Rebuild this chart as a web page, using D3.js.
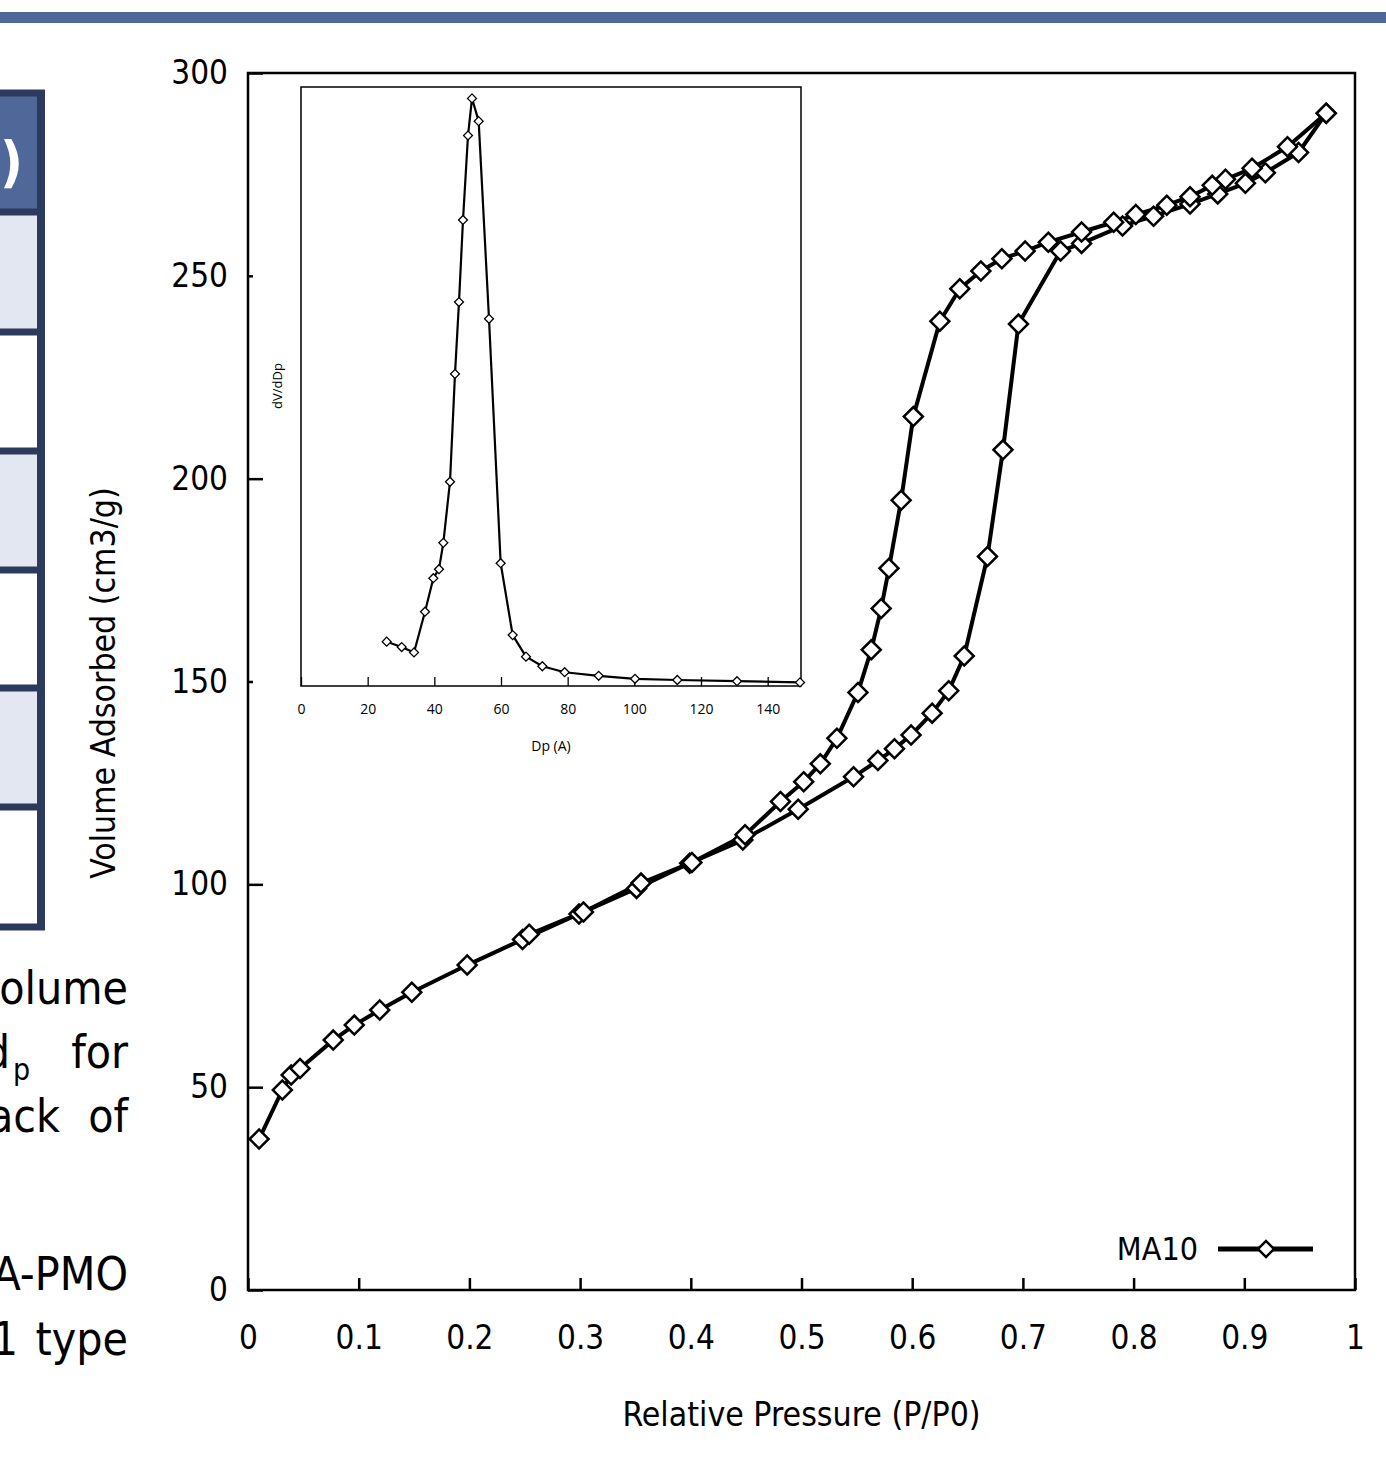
<!DOCTYPE html>
<html>
<head>
<meta charset="utf-8">
<script src="https://cdn.jsdelivr.net/npm/d3@7"></script>
<style>
  body { margin: 0; background: #fff; }
  svg { display: block; }
</style>
</head>
<body>
<script>
// isotherm, adsorption branch (P/P0, cm3/g)
const adsP = [0.010, 0.031, 0.039, 0.047, 0.077, 0.096, 0.119, 0.148, 0.198, 0.248,
  0.299, 0.351, 0.399, 0.447, 0.497, 0.547, 0.569, 0.584, 0.599, 0.618,
  0.633, 0.647, 0.668, 0.682, 0.696, 0.734, 0.753, 0.790, 0.818, 0.851,
  0.876, 0.901, 0.919, 0.949, 0.974];
const adsV = [37.2, 49.3, 53.0, 54.6, 61.6, 65.3, 69.0, 73.4, 80.1, 86.4,
  92.7, 99.0, 105.2, 110.9, 118.5, 126.5, 130.5, 133.4, 136.8, 142.2,
  147.7, 156.3, 180.8, 207.1, 238.1, 256.1, 258.0, 262.3, 264.7, 267.7,
  270.2, 272.8, 275.4, 280.4, 290.1];

// desorption branch
const desP = [0.974, 0.939, 0.907, 0.883, 0.871, 0.851, 0.830, 0.802, 0.782, 0.753,
  0.723, 0.702, 0.681, 0.662, 0.643, 0.625, 0.601, 0.590, 0.579, 0.572,
  0.563, 0.551, 0.532, 0.517, 0.502, 0.481, 0.449, 0.401, 0.355, 0.303,
  0.254];
const desV = [290.1, 281.8, 276.5, 273.8, 272.3, 269.5, 267.4, 265.1, 263.2, 260.8,
  258.3, 256.1, 254.2, 251.2, 246.8, 238.8, 215.3, 194.7, 177.9, 168.0,
  157.8, 147.3, 136.0, 129.7, 125.3, 120.4, 112.2, 105.4, 100.3, 93.2,
  87.7];

// inset: pore size distribution (Dp in A, dV/dDp arbitrary units)
const poreD = [25.7, 30.2, 33.9, 37.2, 39.7, 41.4, 42.7, 44.7, 46.2, 47.4,
  48.6, 50.1, 51.3, 53.3, 56.4, 59.9, 63.5, 67.5, 72.4, 79.1,
  89.3, 100.2, 112.9, 130.8, 149.7];
const poreDV = [0.74, 0.65, 0.56, 1.24, 1.80, 1.95, 2.39, 3.41, 5.21, 6.41,
  7.78, 9.19, 9.81, 9.43, 6.13, 2.05, 0.85, 0.49, 0.33, 0.23,
  0.17, 0.12, 0.10, 0.08, 0.06];

const xTicks = [0, 0.1, 0.2, 0.3, 0.4, 0.5, 0.6, 0.7, 0.8, 0.9, 1];
const yTicks = [0, 50, 100, 150, 200, 250, 300];
const insetTicks = [0, 20, 40, 60, 80, 100, 120, 140];
const seriesName = 'MA10';

const font = "'DejaVu Sans Condensed', 'DejaVu Sans', sans-serif";

const svg = d3.select('body')
  .append('svg')
    .attr('width', 1386)
    .attr('height', 1462);

// slide header bar
svg.append('rect')
    .attr('x', 0)
    .attr('y', 12)
    .attr('width', 1386)
    .attr('height', 11)
    .attr('fill', '#4e6797');

// cropped table on the left side of the slide
const table = svg.append('g').attr('class', 'table');
const rowEdges = [93, 212, 332, 451, 570, 688, 807, 927];
rowEdges.slice(0, -1).forEach((top, i) => {
  table.append('rect')
      .attr('x', -20)
      .attr('y', top)
      .attr('width', 61)
      .attr('height', rowEdges[i + 1] - top)
      .attr('fill', i === 0 ? '#4f6899' : (i % 2 === 1 ? '#e2e7f1' : '#ffffff'));
});
rowEdges.forEach(y => {
  table.append('line')
      .attr('x1', -20)
      .attr('x2', 45)
      .attr('y1', y)
      .attr('y2', y)
      .attr('stroke', '#2c3a5e')
      .attr('stroke-width', 7);
});
table.append('line')
    .attr('x1', 41)
    .attr('x2', 41)
    .attr('y1', 90)
    .attr('y2', 930)
    .attr('stroke', '#2c3a5e')
    .attr('stroke-width', 8);
table.append('text')
    .attr('x', 23)
    .attr('y', 181)
    .attr('text-anchor', 'end')
    .attr('fill', '#ffffff')
    .attr('font-family', font)
    .attr('font-weight', 'bold')
    .attr('font-size', 56)
    .text(')');

// cropped body text of the slide
const body = svg.append('g')
    .attr('font-family', font)
    .attr('font-size', 46)
    .attr('fill', '#000');
body.append('text').attr('x', 128).attr('y', 1004).attr('text-anchor', 'end').text('olume');
body.append('text').attr('x', 10).attr('y', 1068).attr('text-anchor', 'end').text('d');
body.append('text').attr('x', 13).attr('y', 1080).attr('font-size', 30).text('p');
body.append('text').attr('x', 128).attr('y', 1068).attr('text-anchor', 'end').text('for');
body.append('text').attr('x', 60).attr('y', 1132).attr('text-anchor', 'end').text('ack');
body.append('text').attr('x', 128).attr('y', 1132).attr('text-anchor', 'end').text('of');
body.append('text').attr('x', 128).attr('y', 1290).attr('text-anchor', 'end').text('A-PMO');
body.append('text').attr('x', 18).attr('y', 1355).attr('text-anchor', 'end').text('1');
body.append('text').attr('x', 128).attr('y', 1355).attr('text-anchor', 'end').text('type');

// main chart
const x = d3.scaleLinear().domain([0, 1]).range([248, 1355]);
const y = d3.scaleLinear().domain([0, 300]).range([1290, 73]);

const chart = svg.append('g').attr('class', 'chart');

const xAxis = chart.append('g')
    .attr('transform', 'translate(0, 1290)')
    .call(d3.axisBottom(x).tickValues(xTicks).tickSize(-12).tickPadding(36).tickFormat(d3.format('')));
const yAxis = chart.append('g')
    .attr('transform', 'translate(248, 0)')
    .call(d3.axisLeft(y).tickValues(yTicks).tickSize(-15).tickPadding(20));

[xAxis, yAxis].forEach(ax => {
  ax.select('.domain').remove();
  ax.selectAll('line').attr('stroke', '#000').attr('stroke-width', 2.5);
  ax.selectAll('text')
      .attr('font-family', font)
      .attr('font-size', 33)
      .attr('fill', '#000');
});
// short ticks at 150 and 250 as in the figure
yAxis.selectAll('.tick').filter(d => d === 150 || d === 250)
  .select('line')
    .attr('x2', 5);

chart.append('rect')
    .attr('x', x(0))
    .attr('y', y(300))
    .attr('width', x(1) - x(0))
    .attr('height', y(0) - y(300))
    .attr('fill', 'none')
    .attr('stroke', '#000')
    .attr('stroke-width', 2.5);

chart.append('text')
    .attr('x', (x(0) + x(1)) / 2)
    .attr('y', 1426)
    .attr('text-anchor', 'middle')
    .attr('font-family', font)
    .attr('font-size', 33.5)
    .text('Relative Pressure (P/P0)');

chart.append('text')
    .attr('transform', 'translate(103, 683) rotate(-90)')
    .attr('dy', '0.35em')
    .attr('text-anchor', 'middle')
    .attr('font-family', font)
    .attr('font-size', 33.5)
    .text('Volume Adsorbed (cm3/g)');

// inset
const ix = d3.scaleLinear().domain([0, 150]).range([301, 801]);
const iy = d3.scaleLinear().domain([0, 10]).range([686, 87]);
const inset = svg.append('g').attr('class', 'inset');

inset.append('rect')
    .attr('x', ix(0))
    .attr('y', iy(10))
    .attr('width', ix(150) - ix(0))
    .attr('height', iy(0) - iy(10))
    .attr('fill', '#fff')
    .attr('stroke', '#000')
    .attr('stroke-width', 1.5);

const ixAxis = inset.append('g')
    .attr('transform', `translate(0, ${iy(0)})`)
    .call(d3.axisBottom(ix).tickValues(insetTicks).tickSize(-9).tickPadding(18));
ixAxis.select('.domain').remove();
ixAxis.selectAll('line').attr('stroke', '#000').attr('stroke-width', 1.3);
ixAxis.selectAll('text')
    .attr('font-family', "'Open Sans', sans-serif")
    .attr('font-size', 14)
    .attr('fill', '#000');

inset.append('text')
    .attr('x', 551)
    .attr('y', 751)
    .attr('text-anchor', 'middle')
    .attr('font-family', "'Open Sans', sans-serif")
    .attr('font-size', 14)
    .text('Dp (A)');

inset.append('text')
    .attr('transform', 'translate(277, 386) rotate(-90)')
    .attr('dy', '0.35em')
    .attr('text-anchor', 'middle')
    .attr('font-family', "'Open Sans', sans-serif")
    .attr('font-size', 13)
    .text('dV/dDp');

const poreData = poreD.map((d, i) => ({ d, v: poreDV[i] }));
inset.append('path')
    .datum(poreData)
    .attr('fill', 'none')
    .attr('stroke', '#000')
    .attr('stroke-width', 2.2)
    .attr('stroke-linejoin', 'round')
    .attr('d', d3.line().x(p => ix(p.d)).y(p => iy(p.v)));

const smallDiamond = d3.symbol().type(d3.symbolSquare).size(40);
inset.selectAll('.pt')
  .data(poreData)
  .enter()
  .append('path')
    .attr('class', 'pt')
    .attr('transform', p => `translate(${ix(p.d)}, ${iy(p.v)}) rotate(45)`)
    .attr('d', smallDiamond)
    .attr('fill', '#fff')
    .attr('stroke', '#000')
    .attr('stroke-width', 1.3);

// isotherm branches
const bigDiamond = d3.symbol().type(d3.symbolSquare).size(180);
const branches = [
  adsP.map((p, i) => ({ p, v: adsV[i] })),
  desP.map((p, i) => ({ p, v: desV[i] })),
];
const line = d3.line().x(d => x(d.p)).y(d => y(d.v));

branches.forEach(data => {
  chart.append('path')
      .datum(data)
      .attr('fill', 'none')
      .attr('stroke', '#000')
      .attr('stroke-width', 4)
      .attr('stroke-linejoin', 'round')
      .attr('d', line);
});
branches.forEach(data => {
  chart.append('g')
    .selectAll('path')
    .data(data)
    .enter()
    .append('path')
      .attr('transform', d => `translate(${x(d.p)}, ${y(d.v)}) rotate(45)`)
      .attr('d', bigDiamond)
      .attr('fill', '#fff')
      .attr('stroke', '#000')
      .attr('stroke-width', 2.5);
});

// legend
const legend = chart.append('g').attr('transform', 'translate(1218, 1249)');
legend.append('text')
    .attr('x', -20)
    .attr('dy', '0.35em')
    .attr('text-anchor', 'end')
    .attr('font-family', font)
    .attr('font-size', 32)
    .text(seriesName);
legend.append('line')
    .attr('x1', 0)
    .attr('x2', 95)
    .attr('stroke', '#000')
    .attr('stroke-width', 5);
legend.append('path')
    .attr('transform', 'translate(48, 0) rotate(45)')
    .attr('d', d3.symbol().type(d3.symbolSquare).size(128))
    .attr('fill', '#fff')
    .attr('stroke', '#000')
    .attr('stroke-width', 2.5);
</script>
</body>
</html>
